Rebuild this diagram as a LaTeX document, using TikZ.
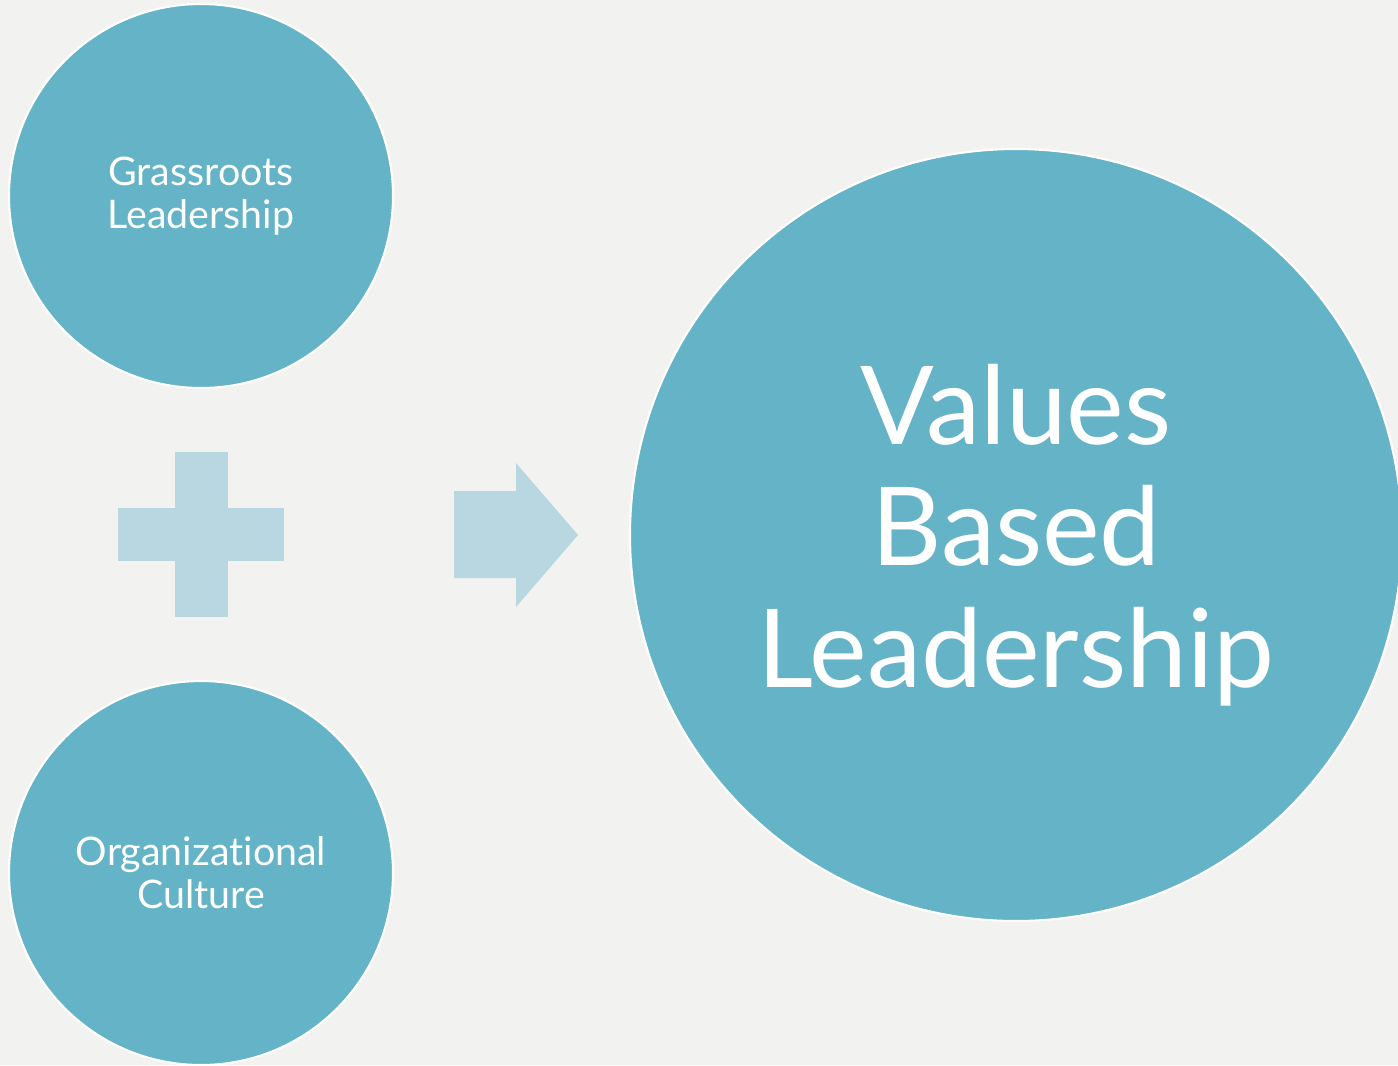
\documentclass[tikz,border=0pt]{standalone}
\usepackage{fontspec}
\setmainfont{Lato}[Ligatures={NoCommon}]
\usetikzlibrary{positioning}
\definecolor{bubblecol}{HTML}{64B3C7}
\definecolor{signcol}{HTML}{B9D7E0}
\definecolor{bgcol}{HTML}{F2F2F0}
\tikzstyle{bubble} = [circle, draw=white, line width=0.6pt, fill=bubblecol, inner sep=0pt, text=white, align=center]
\tikzstyle{smallbubble} = [bubble, minimum size=3.84cm, font=\fontsize{11.2}{12.3}\selectfont]
\tikzstyle{bigbubble} = [bubble, minimum size=7.72cm, font=\fontsize{31}{34.6}\selectfont]

\begin{document}
\begin{tikzpicture}

        \fill[bgcol] (0, 0) rectangle (13.98, -10.65);
        \useasboundingbox (0, 0) rectangle (13.98, -10.65);

        \node[smallbubble] at (2.01, -1.96) (Grassroots) {Grassroots\\Leadership};
        \node[smallbubble] at (2.01, -8.73) (Culture) {Organizational\\Culture};
        \node[bigbubble] at (10.16, -5.35) (Values) {Values\\Based\\Leadership};

        \fill[signcol] (1.75, -4.52) rectangle (2.28, -6.17);
        \fill[signcol] (1.18, -5.08) rectangle (2.84, -5.61);

        \fill[signcol] (4.54, -4.91) -- (5.16, -4.91) -- (5.16, -4.63) -- (5.78, -5.35)
            -- (5.16, -6.07) -- (5.16, -5.78) -- (4.54, -5.78) -- cycle;

    \end{tikzpicture}
\end{document}
